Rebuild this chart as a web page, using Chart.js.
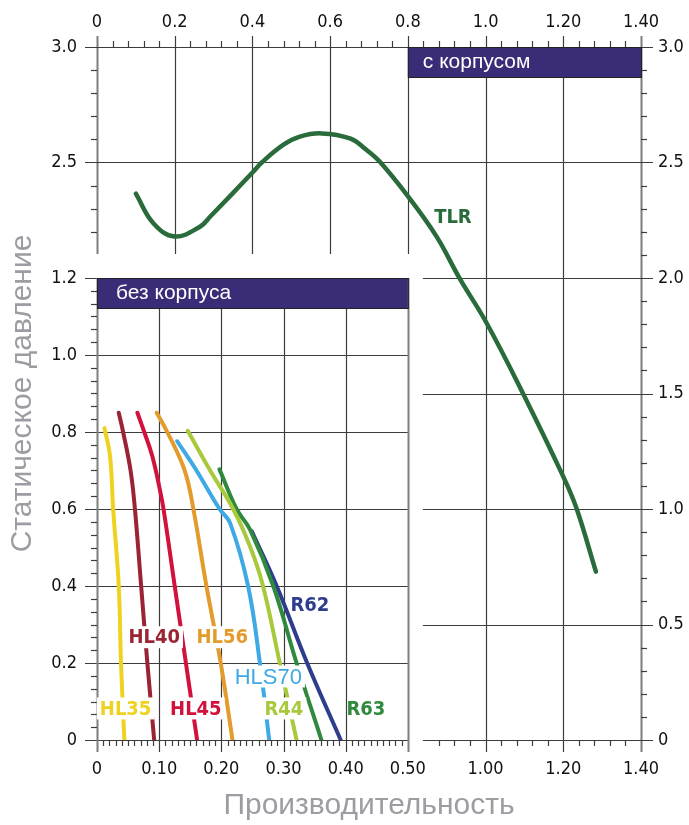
<!DOCTYPE html>
<html>
<head>
<meta charset="utf-8">
<script src="https://cdn.jsdelivr.net/npm/chart.js@4.4.1/dist/chart.umd.min.js"></script>
<style>
  html, body { margin: 0; padding: 0; background: #fff; }
  canvas { display: block; }
</style>
</head>
<body>
<canvas id="fanChart" width="689" height="825"></canvas>
<script>
const narrowFont = "'Liberation Sans Narrow', 'DejaVu Sans Condensed', sans-serif";
const plainFont = "'Liberation Sans', Arial, sans-serif";
const gridColor = '#3c3c3c';
const axisColor = '#7d7d7d';
const boxColor = '#3b2c77';

// ---- без корпуса (inner chart): x 0..0.5, y 0..1.2
const hl35 = [[0.012, 0.81], [0.021, 0.737], [0.026, 0.60], [0.035, 0.40], [0.0386, 0.20], [0.044, 0]];
const hl40 = [[0.035, 0.85], [0.042, 0.80], [0.054, 0.70], [0.061, 0.60], [0.071, 0.40], [0.081, 0.20], [0.092, 0]];
const hl45 = [[0.065, 0.85], [0.076, 0.80], [0.089, 0.737], [0.101, 0.651], [0.107, 0.60], [0.125, 0.40], [0.143, 0.20], [0.161, 0]];
const hl56 = [[0.096, 0.85], [0.113, 0.80], [0.141, 0.70], [0.155, 0.60], [0.176, 0.40], [0.199, 0.20], [0.218, 0]];
const hls70 = [[0.129, 0.776], [0.160, 0.70], [0.197, 0.60], [0.214, 0.564], [0.243, 0.40], [0.262, 0.20], [0.277, 0]];
const r44 = [[0.146, 0.803], [0.182, 0.70], [0.219, 0.60], [0.246, 0.503], [0.267, 0.40], [0.294, 0.20], [0.321, 0]];
const r63 = [[0.197, 0.703], [0.2245, 0.60], [0.246, 0.547], [0.2835, 0.40], [0.321, 0.20], [0.361, 0]];
const r62 = [[0.249, 0.542], [0.289, 0.40], [0.338, 0.20], [0.392, 0]];

// ---- с корпусом (outer chart): x 0..1.4, y 0..3.0
const tlr = [[0.100, 2.365], [0.145, 2.237], [0.200, 2.180], [0.265, 2.222], [0.291, 2.265], [0.402, 2.460],
  [0.424, 2.500], [0.480, 2.577], [0.522, 2.612], [0.578, 2.626], [0.651, 2.604], [0.694, 2.554],
  [0.728, 2.503], [0.801, 2.352], [0.874, 2.179], [0.934, 1.996], [1.003, 1.804], [1.097, 1.498],
  [1.200, 1.140], [1.234, 1.003], [1.284, 0.729]];

// tick labels
const innerXTicks = [0, 0.1, 0.2, 0.3, 0.4, 0.5];
const innerXLabels = ['0', '0.10', '0.20', '0.30', '0.40', '0.50'];
const innerYTicks = [0, 0.2, 0.4, 0.6, 0.8, 1.0, 1.2];
const innerYLabels = ['0', '0.2', '0.4', '0.6', '0.8', '1.0', '1.2'];
const outerXTicks = [0, 0.2, 0.4, 0.6, 0.8, 1.0, 1.2, 1.4];
const outerXLabels = ['0', '0.2', '0.4', '0.6', '0.8', '1.0', '1.20', '1.40'];
const outerXBottom = [1.0, 1.2, 1.4];
const outerXBottomLabels = ['1.00', '1.20', '1.40'];
const outerYTicks = [0, 0.5, 1.0, 1.5, 2.0, 2.5, 3.0];
const outerYLabels = ['0', '0.5', '1.0', '1.5', '2.0', '2.5', '3.0'];
const outerYLeft = [2.5, 3.0];
const outerYLeftLabels = ['2.5', '3.0'];

// inner 0.5 sits on outer 0.8, inner 1.2 sits on outer 2.0
const kx = 0.5 / 0.8;
const ky = 1.2 / 2.0;

const bottomVals = innerXTicks.concat(outerXBottom.map(v => v * kx));
const bottomText = innerXLabels.concat(outerXBottomLabels);
const leftVals = innerYTicks.concat(outerYLeft.map(v => v * ky));
const leftText = innerYLabels.concat(outerYLeftLabels);

const seriesLabels = [
  { text: 'HL35', color: '#efd21f', at: [0.046, 0.082] },
  { text: 'HL40', color: '#9a2433', at: [0.092, 0.267] },
  { text: 'HL45', color: '#d2123c', at: [0.159, 0.082] },
  { text: 'HL56', color: '#e39b2c', at: [0.2015, 0.267] },
  { text: 'HLS70', color: '#3ea9e4', at: [0.2755, 0.165], plain: true },
  { text: 'R44', color: '#a9c93c', at: [0.3006, 0.082] },
  { text: 'R63', color: '#2f8a3d', at: [0.4325, 0.082], bare: true },
  { text: 'R62', color: '#2e3d8c', at: [0.3424, 0.351], bare: true }
];

function curve(points, color, xAxisID, yAxisID, width) {
  return {
    data: points.map(p => ({ x: p[0], y: p[1] })),
    borderColor: color,
    borderWidth: width,
    borderCapStyle: 'round',
    pointRadius: 0,
    fill: false,
    tension: 0.4,
    xAxisID: xAxisID,
    yAxisID: yAxisID
  };
}

function line(ctx, x1, y1, x2, y2, color, width) {
  ctx.beginPath();
  ctx.strokeStyle = color;
  ctx.lineWidth = width;
  ctx.moveTo(x1, y1);
  ctx.lineTo(x2, y2);
  ctx.stroke();
}

const framePlugin = {
  id: 'frame',
  beforeDatasetsDraw(chart) {
    const { ctx, chartArea: a, scales: { xo, yo, xi, yi } } = chart;
    const L = a.left, R = a.right, T = a.top, B = a.bottom;
    const split = xi.getPixelForValue(0.5);
    const gapRight = split + 15;
    const innerTop = yi.getPixelForValue(1.2);
    const gapBottom = innerTop - 24;
    const boxH = 30;
    ctx.save();

    // outer grid
    outerXTicks.forEach(v => {
      const x = Math.round(xo.getPixelForValue(v)) + 0.5;
      if (v === 0) line(ctx, x, T - 11, x, gapBottom, axisColor, 2);
      else if (v <= 0.8) line(ctx, x, T - 11, x, gapBottom, gridColor, 1.2);
      else if (v < 1.4) line(ctx, x, T - 11, x, B + 12, gridColor, 1.2);
      else line(ctx, x, T - 11, x, B + 12, axisColor, 2);
    });
    outerYTicks.forEach(v => {
      const y = Math.round(yo.getPixelForValue(v)) + 0.5;
      if (v >= 2.5) line(ctx, L - 12, y, R + 12, y, gridColor, 1.2);
      else line(ctx, gapRight, y, R + 12, y, gridColor, 1.2);
    });
    for (let i = 1; i < 35; i++) {
      if (i % 5 === 0) continue;
      const x = Math.round(xo.getPixelForValue(i * 0.04)) + 0.5;
      line(ctx, x, T - 6, x, T, gridColor, 1.2);
      if (x > gapRight + 2) line(ctx, x, B, x, B + 6, gridColor, 1.2);
    }
    for (let i = 1; i < 30; i++) {
      if (i % 5 === 0) continue;
      const y = Math.round(yo.getPixelForValue(i / 10)) + 0.5;
      line(ctx, R, y, R + 6, y, gridColor, 1.2);
      if (y < gapBottom - 3) line(ctx, L - 6, y, L, y, gridColor, 1.2);
    }

    // inner grid
    innerYTicks.forEach(v => {
      const y = Math.round(yi.getPixelForValue(v)) + 0.5;
      line(ctx, L - 12, y, split, y, gridColor, 1.2);
    });
    innerXTicks.forEach(v => {
      const x = Math.round(xi.getPixelForValue(v)) + 0.5;
      if (v === 0 || v === 0.5) line(ctx, x, innerTop, x, B + 12, axisColor, 2);
      else line(ctx, x, innerTop + boxH, x, B + 12, gridColor, 1.2);
    });
    for (let i = 1; i < 36; i++) {
      if (i % 6 === 0) continue;
      const y = Math.round(yi.getPixelForValue(i * 0.2 / 6)) + 0.5;
      line(ctx, L - 6, y, L, y, gridColor, 1.2);
    }
    for (let i = 1; i < 50; i++) {
      if (i % 10 === 0) continue;
      const x = Math.round(xi.getPixelForValue(i / 100)) + 0.5;
      line(ctx, x, B, x, B + 6, gridColor, 1.2);
    }

    // title boxes
    const ox = xo.getPixelForValue(0.8);
    ctx.fillStyle = boxColor;
    ctx.fillRect(ox, T, R - ox, boxH);
    ctx.fillRect(L, innerTop, split - L, boxH);
    ctx.strokeStyle = '#222';
    ctx.lineWidth = 1;
    ctx.strokeRect(ox + 0.5, T + 0.5, R - ox, boxH);
    ctx.strokeRect(L + 0.5, innerTop + 0.5, split - L, boxH);
    ctx.fillStyle = '#ffffff';
    ctx.font = '21px ' + plainFont;
    ctx.textBaseline = 'middle';
    ctx.textAlign = 'left';
    ctx.fillText('с корпусом', ox + 15, T + boxH / 2);
    ctx.fillText('без корпуса', L + 19, innerTop + boxH / 2);
    ctx.restore();
  },
  afterDatasetsDraw(chart) {
    const { ctx, scales: { xo, yo, xi, yi } } = chart;
    ctx.save();
    ctx.textAlign = 'center';
    ctx.textBaseline = 'middle';
    seriesLabels.forEach(s => {
      const x = xi.getPixelForValue(s.at[0]);
      const y = yi.getPixelForValue(s.at[1]);
      ctx.font = s.plain ? '22px ' + plainFont : 'bold 20px ' + narrowFont;
      const w = ctx.measureText(s.text).width;
      if (!s.bare) {
        ctx.fillStyle = '#ffffff';
        ctx.fillRect(x - w / 2 - 3, y - 11, w + 6, 22);
      }
      ctx.fillStyle = s.color;
      ctx.fillText(s.text, x, y + 1);
    });
    ctx.font = 'bold 20px ' + narrowFont;
    ctx.fillStyle = '#2a6b3b';
    ctx.fillText('TLR', xo.getPixelForValue(0.916), yo.getPixelForValue(2.26));
    ctx.restore();
  }
};

const tickFont = { family: narrowFont, size: 18 };
const hidden = { display: false, drawTicks: false };

const fanChart = new Chart(document.getElementById('fanChart'), {
  type: 'line',
  data: {
    datasets: [
      curve(hl35, '#efd21f', 'xi', 'yi', 4),
      curve(hl40, '#9a2433', 'xi', 'yi', 4),
      curve(hl45, '#d2123c', 'xi', 'yi', 4),
      curve(hl56, '#e39b2c', 'xi', 'yi', 4),
      curve(hls70, '#3ea9e4', 'xi', 'yi', 4),
      curve(r44, '#a9c93c', 'xi', 'yi', 4),
      curve(r63, '#2f8a3d', 'xi', 'yi', 4),
      curve(r62, '#2e3d8c', 'xi', 'yi', 4),
      curve(tlr, '#2a6b3b', 'xo', 'yo', 4.5)
    ]
  },
  options: {
    responsive: false,
    animation: false,
    devicePixelRatio: 1,
    layout: { padding: 0 },
    plugins: { legend: { display: false }, tooltip: { enabled: false } },
    scales: {
      xo: {
        type: 'linear', position: 'top', min: 0, max: 1.4,
        grid: hidden, border: { display: false },
        afterBuildTicks: s => { s.ticks = outerXTicks.map(v => ({ value: v })); },
        afterFit: s => { s.height = 47; },
        ticks: { autoSkip: false, maxRotation: 0, padding: 14, color: '#111', font: tickFont,
          callback: (v, i) => outerXLabels[i] }
      },
      yo: {
        type: 'linear', position: 'right', min: 0, max: 3,
        grid: hidden, border: { display: false },
        afterBuildTicks: s => { s.ticks = outerYTicks.map(v => ({ value: v })); },
        afterFit: s => { s.width = 48; },
        ticks: { autoSkip: false, padding: 17, color: '#111', font: tickFont,
          callback: (v, i) => outerYLabels[i] }
      },
      xi: {
        type: 'linear', position: 'bottom', min: 0, max: 1.4 * kx,
        grid: hidden, border: { display: false },
        afterBuildTicks: s => { s.ticks = bottomVals.map(v => ({ value: v })); },
        afterFit: s => { s.height = 85; },
        ticks: { autoSkip: false, maxRotation: 0, padding: 19, color: '#111', font: tickFont,
          callback: (v, i) => bottomText[i] },
        title: { display: true, text: 'Производительность', color: '#9b9da2',
          font: { family: plainFont, size: 30 }, padding: { top: 0, bottom: 1 } }
      },
      yi: {
        type: 'linear', position: 'left', min: 0, max: 3.0 * ky,
        grid: hidden, border: { display: false },
        afterBuildTicks: s => { s.ticks = leftVals.map(v => ({ value: v })); },
        afterFit: s => { s.width = 97; },
        ticks: { autoSkip: false, padding: 20, color: '#111', font: tickFont,
          callback: (v, i) => leftText[i] },
        title: { display: true, text: 'Статическое давление', color: '#9b9da2',
          font: { family: plainFont, size: 30 }, padding: { top: 5, bottom: 0 } }
      }
    }
  },
  plugins: [framePlugin]
});
</script>
</body>
</html>
